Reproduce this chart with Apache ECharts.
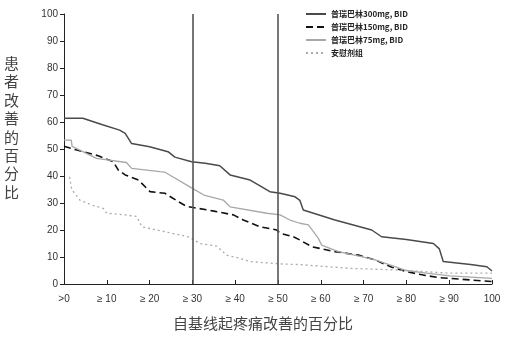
<!DOCTYPE html>
<html><head><meta charset="utf-8">
<script src="https://cdn.jsdelivr.net/npm/echarts@6/dist/echarts.min.js"></script>
<style>html,body{margin:0;padding:0;background:#fff}#c{width:511px;height:337px}</style>
</head><body><div id="c"></div>
<script>
const xTickLabels = ['>0','≥ 10','≥ 20','≥ 30','≥ 40','≥ 50','≥ 60','≥ 70','≥ 80','≥ 90','100'];
const seriesNames = ['普瑞巴林300mg, BID','普瑞巴林150mg, BID','普瑞巴林75mg, BID','安慰剂组'];
const refLinesX = [30, 50];
const s300 = [[0,61.4],[4.4,61.4],[9,59],[13,57],[14.3,55.8],[15.8,52],[20,50.8],[24.3,49],[25.9,47],[29.8,45.3],[33,44.7],[36.4,43.8],[38.8,40.4],[43.5,38.5],[48.1,34.2],[50.5,33.6],[54,32.3],[55.1,31],[55.9,27.4],[63.3,23.7],[71.9,20],[74.2,17.5],[80,16.5],[86.3,15],[87.7,13],[88.6,8.3],[95,7.2],[98.8,6.4],[100,4.8]];
const s150 = [[0,51],[3,49.6],[8,47.5],[11.5,45.3],[12.7,42.2],[14.3,40.4],[17.4,38.5],[20.1,34.2],[23.6,33.6],[26.7,30.5],[28.7,28.7],[31.4,28],[35,27],[39.6,25.6],[41.9,23.7],[45.8,21.2],[49.7,20],[50.5,18.8],[53.6,17.5],[55.1,16.3],[57.9,13.8],[63.3,12],[68.8,10.7],[72.7,8.9],[76.6,6.2],[80,4.6],[84,3.3],[87.5,2.4],[95,1.5],[100,0.9]];
const s75 = [[0,53.3],[1.7,53.3],[1.9,51],[7.6,46.5],[14.6,45],[15.8,42.8],[22.4,41.6],[23.6,41.4],[29.8,35.6],[32.9,32.8],[37.2,31.1],[38.8,28.6],[47.4,26.2],[50.5,25.6],[52.8,23.7],[55.1,22.5],[57.1,21.9],[59.4,17],[60.2,14.4],[64.1,12],[69.5,10.1],[72.7,8.9],[77.3,6.4],[80,5],[84.7,4],[90.2,3],[100,2.1]];
const sPlacebo = [[1.3,39.7],[1.8,35],[3.7,31.1],[6.4,29.3],[9.2,28],[10,26.2],[14.3,25.6],[17,25],[18.2,21.2],[29,17.5],[31.8,15],[35.7,14],[38,10.7],[41.1,9.5],[43.5,8.3],[51,7.4],[55.1,7.2],[66.8,5.8],[77.7,5.2],[84,4.6],[90.2,4],[100,4]];

const chart = echarts.init(document.getElementById('c'));
const mk = (name, data, color, type, width) => ({
  name, type: 'line', data, showSymbol: false, symbol: 'none',
  lineStyle: {color, type, width}, itemStyle: {color}, animation: false
});
const series = [
  mk(seriesNames[0], s300, '#4a4a4a', 'solid', 1.5),
  mk(seriesNames[1], s150, '#111111', [7,4], 1.6),
  mk(seriesNames[2], s75, '#a8a8a8', 'solid', 1.3),
  mk(seriesNames[3], sPlacebo, '#aaaaaa', [2,3], 1.3)
];
series[0].markLine = {
  silent: true, symbol: 'none', animation: false, label: {show: false},
  lineStyle: {color: '#555', type: 'solid', width: 1.6},
  data: refLinesX.map(v => ({xAxis: v}))
};
chart.setOption({
  animation: false,
  textStyle: {fontFamily: 'Liberation Sans, Arial, sans-serif'},
  grid: {left: 64, right: 19, top: 14, bottom: 53},
  legend: {
    show: true, orient: 'vertical', left: 300, top: 5, itemWidth: 20, itemHeight: 9, itemGap: 5,
    itemStyle: {opacity: 0},
    textStyle: {fontSize: 8, color: '#222', fontWeight: 'bold', fontFamily: 'Noto Sans CJK SC, sans-serif'},
    data: seriesNames
  },
  xAxis: {
    type: 'value', min: 0, max: 100, interval: 10,
    axisLine: {lineStyle: {color: '#222', width: 1}},
    axisTick: {show: true, length: 4, inside: true, lineStyle: {color: '#222'}},
    splitLine: {show: false},
    axisLabel: {color: '#333', fontSize: 10, margin: 10, formatter: (v) => xTickLabels[Math.round(v/10)]},
    name: '自基线起疼痛改善的百分比', nameLocation: 'middle', nameGap: 32,
    nameTextStyle: {fontSize: 15, color: '#444', padding: [0, 30, 0, 0], fontFamily: 'Noto Sans CJK SC, sans-serif'}
  },
  yAxis: {
    type: 'value', min: 0, max: 100, interval: 10,
    axisLine: {show: true, lineStyle: {color: '#222', width: 1}},
    axisTick: {show: true, length: 4, lineStyle: {color: '#222'}},
    splitLine: {show: false},
    axisLabel: {color: '#333', fontSize: 10, margin: 6}
  },
  graphic: [{
    type: 'text', left: 4, top: 54,
    style: {text: '患\n者\n改\n善\n的\n百\n分\n比', fontSize: 15, lineHeight: 18.4, fill: '#444', fontFamily: 'Noto Sans CJK SC, sans-serif'}
  }],
  series
});
</script></body></html>
